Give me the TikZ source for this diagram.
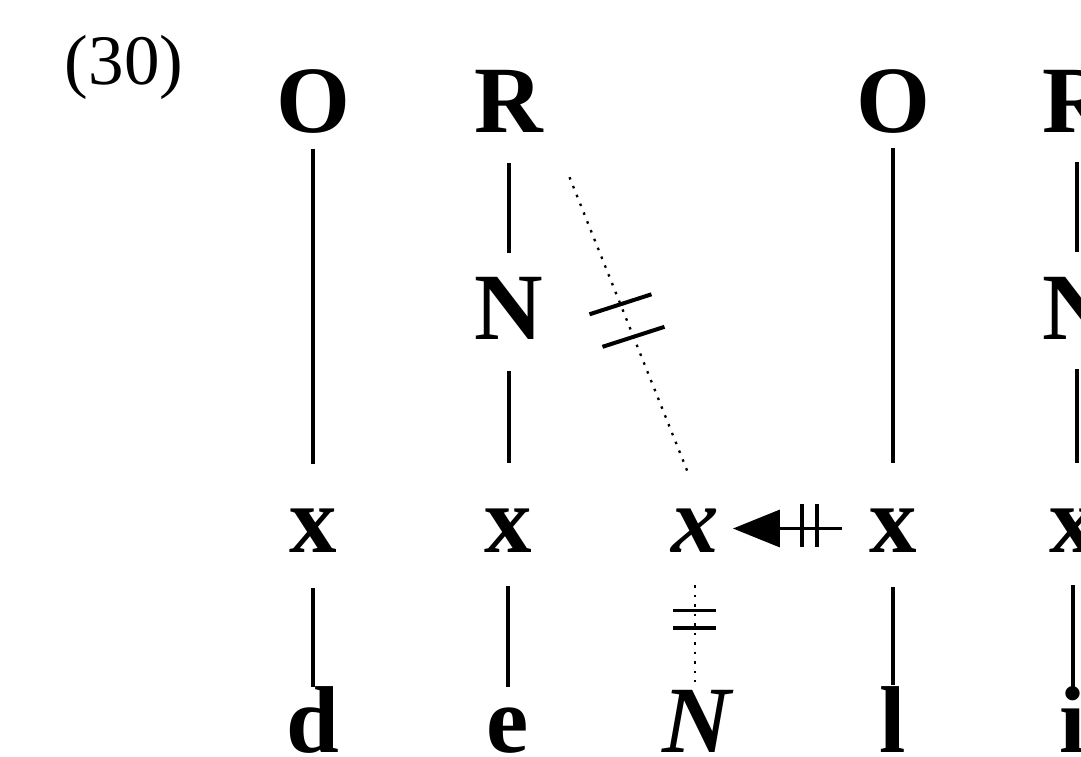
\documentclass[tikz,border=0pt]{standalone}
\usepackage{fontspec}
\setmainfont{Liberation Serif}
\usetikzlibrary{arrows.meta}
\newcommand\letterfont{\fontsize{95}{100}\selectfont\bfseries}
\newcommand\numfont{\fontsize{71}{75}\selectfont}
\tikzset{
  lt/.style={inner sep=0pt, text height=63pt, text depth=0pt, anchor=base, font=\letterfont},
  xl/.style={lt, text height=43pt},
  link/.style={line width=3.5pt},
  dotline/.style={line width=2.3pt, dash pattern=on 2.5pt off 7pt},
  crossmark/.style={line width=4pt},
  blockarrow/.style={line width=3.5pt, -{Triangle[length=47pt,width=37pt]}}
}
\begin{document}
\begin{tikzpicture}[x=1pt,y=-1pt]
\useasboundingbox (0,0) rectangle (1081,757);
\clip (0,0) rectangle (1081,757);
% label
\node[inner sep=0pt, anchor=base, font=\numfont] (lab) at (124,85) {(30)};
% column 1
\node[lt] (O1) at (313,132) {O};
\node[xl] (x1) at (313,552) {x};
\node[lt] (d1) at (313,752) {d};
% column 2
\node[lt] (R2) at (509,132) {R};
\node[lt] (N2) at (509,339) {N};
\node[xl] (x2) at (508,552) {x};
\node[lt] (e2) at (508,752) {e};
% column 3
\node[xl, font=\letterfont\itshape] (x3) at (695,552) {x};
\node[lt, font=\letterfont\itshape] (N3) at (697,752) {N};
% column 4
\node[lt] (O4) at (893,132) {O};
\node[xl] (x4) at (893,552) {x};
\node[lt] (l4) at (893,752) {l};
% column 5
\node[lt] (R5) at (1077,132) {R};
\node[lt] (N5) at (1077,339) {N};
\node[xl] (x5) at (1073,552) {x};
\node[lt] (i5) at (1073,752) {i};
% solid links
\draw[link, shorten <=17pt, shorten >=45pt] (O1.south) -- (x1.north);
\draw[link, shorten <=36pt, shorten >=2pt] (x1.south) -- (d1.north);
\draw[link, shorten <=31pt, shorten >=23pt] (R2.south) -- (N2.south |- N2.north);
\draw[link, shorten <=32pt, shorten >=46pt] (N2.south) -- (N2.south |- x2.north);
\draw[link, shorten <=34pt, shorten >=2pt] (x2.south) -- (e2.north);
\draw[link, shorten <=16pt, shorten >=46pt] (O4.south) -- (x4.north);
\draw[link, shorten <=35pt, shorten >=4pt] (x4.south) -- (l4.north);
\draw[link, shorten <=30pt, shorten >=24pt] (R5.south) -- (N5.north);
\draw[link, shorten <=30pt, shorten >=46pt] (N5.south) -- (N5.south |- x5.north);
\draw[link, shorten <=33pt, shorten >=2pt] (x5.south) -- (i5.north);
% dotted diagonal R2 -> x3 with crossing marks
\draw[dotline] ([xshift=26pt,yshift=-45pt]R2.south east) -- ([xshift=-7pt,yshift=36pt]x3.north)
  coordinate[pos=0.43] (s1) coordinate[pos=0.54] (s2);
\draw[crossmark] ([shift={(-31,10)}]s1) -- ([shift={(31,-10)}]s1);
\draw[crossmark] ([shift={(-31,10)}]s2) -- ([shift={(31,-10)}]s2);
% dotted vertical x3 -> N3 with crossing bars
\draw[dotline] ([yshift=-33pt]x3.south) -- ([xshift=-2pt,yshift=7pt]N3.north)
  coordinate[pos=0.26] (b1) coordinate[pos=0.445] (b2);
\draw[crossmark, line width=3.5pt] ([xshift=-22pt]b1) -- ([xshift=21pt]b1);
\draw[crossmark, line width=3.5pt] ([xshift=-22pt]b2) -- ([xshift=21pt]b2);
% arrow x4 -> x3 with ticks
\draw[blockarrow] ([xshift=-27pt,yshift=2pt]x4.west) -- ([xshift=14pt,yshift=2pt]x3.east);
\draw[crossmark, line width=3.5pt] ([xshift=-67pt,yshift=27pt]x4.west) -- ++(0,43);
\draw[crossmark, line width=3.5pt] ([xshift=-52pt,yshift=27pt]x4.west) -- ++(0,43);
\end{tikzpicture}
\end{document}
